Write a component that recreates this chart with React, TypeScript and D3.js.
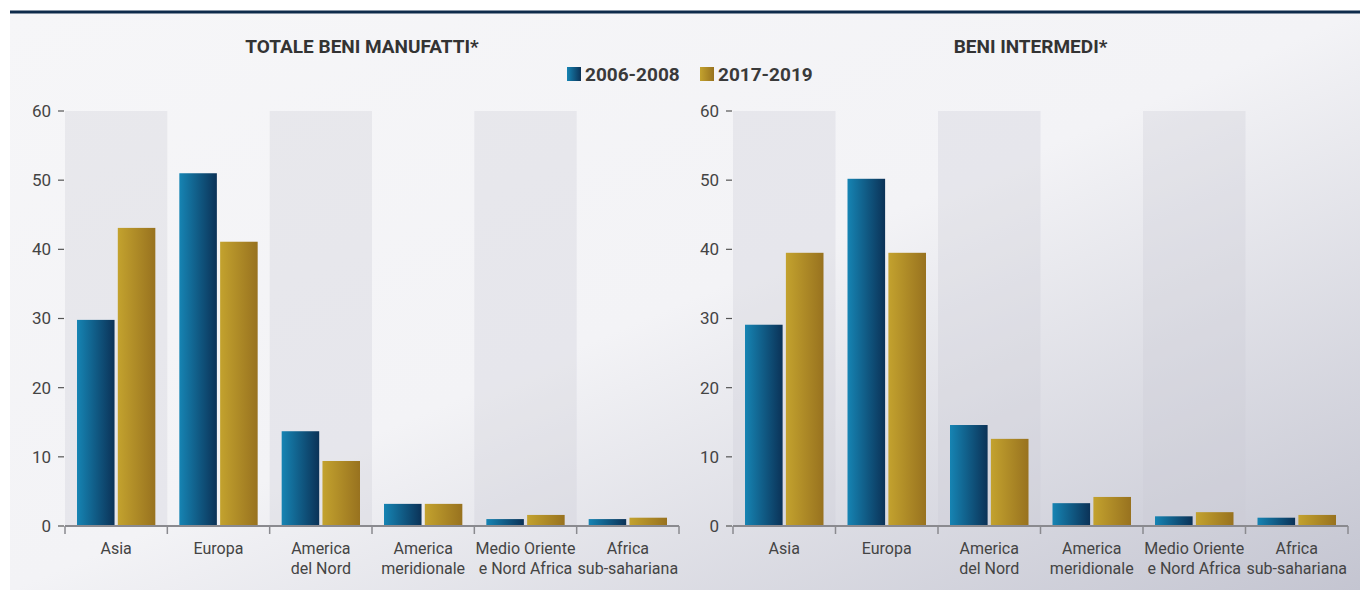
import React from 'react';
import * as d3 from 'd3';

const categories = ['Asia', 'Europa', 'America del Nord', 'America meridionale', 'Medio Oriente e Nord Africa', 'Africa sub-sahariana'];
const categoryLines = [['Asia'], ['Europa'], ['America', 'del Nord'], ['America', 'meridionale'], ['Medio Oriente', 'e Nord Africa'], ['Africa', 'sub-sahariana']];
const seriesNames = ['2006-2008', '2017-2019'];
const yTicks = [0, 10, 20, 30, 40, 50, 60];

const totale2006 = [29.8, 51.0, 13.7, 3.2, 1.0, 1.0];
const totale2017 = [43.1, 41.1, 9.4, 3.2, 1.6, 1.2];
const intermedi2006 = [29.1, 50.2, 14.6, 3.3, 1.4, 1.2];
const intermedi2017 = [39.5, 39.5, 12.6, 4.2, 2.0, 1.6];

const W = 1360;
const H = 590;
const FONT = 'Roboto, sans-serif';

const y = d3.scaleLinear().domain([0, 60]).range([526, 111]);

type PanelProps = { x0: number; x1: number; title: string; a: number[]; b: number[] };

const Panel = ({ x0, x1, title, a, b }: PanelProps) => {
  const x = d3.scaleBand().domain(categories).range([x0, x1]);
  const bw = x.bandwidth();
  const xs = d3.scaleBand().domain(seriesNames).range([12, bw - 12]).paddingInner(0.08);
  const vals = [a, b];
  return (
    <g>
      <text x={(x0 + x1) / 2 - 10} y={53} textAnchor="middle" fontFamily={FONT} fontWeight={700}
        fontSize={19} fill="#333">{title}</text>
      {categories.map((c, i) => i % 2 === 0 && (
        <rect key={'band' + c} x={x(c)} y={y(60)} width={bw} height={y(0) - y(60)} fill="#c9c9d3" opacity={0.3} />
      ))}
      {categories.map((c, i) => seriesNames.map((s, j) => (
        <rect key={c + s} x={(x(c) ?? 0) + (xs(s) ?? 0)} y={y(vals[j][i])} width={xs.bandwidth()}
          height={y(0) - y(vals[j][i])} fill={j === 0 ? 'url(#gBlue)' : 'url(#gGold)'} />
      )))}
      <line x1={x0} x2={x1} y1={y(0)} y2={y(0)} stroke="#8a8a8f" strokeWidth={2} />
      {d3.range(categories.length + 1).map(i => (
        <line key={'t' + i} x1={x0 + i * bw} x2={x0 + i * bw} y1={y(0)} y2={y(0) + 8} stroke="#8a8a8f" strokeWidth={1.5} />
      ))}
      {yTicks.map(t => (
        <g key={'y' + t}>
          <line x1={x0 - 7} x2={x0 - 1} y1={y(t)} y2={y(t)} stroke="#555" strokeWidth={1.2} />
          <text x={x0 - 14} y={y(t)} dy="0.35em" textAnchor="end" fontFamily={FONT} fontSize={17} fill="#444">{t}</text>
        </g>
      ))}
      {categories.map((c, i) => (
        <text key={'l' + c} textAnchor="middle" fontFamily={FONT} fontSize={16} fill="#444">
          {categoryLines[i].map((ln, k) => (
            <tspan key={k} x={(x(c) ?? 0) + bw / 2} y={554 + k * 20}>{ln}</tspan>
          ))}
        </text>
      ))}
    </g>
  );
};

export default function App() {
  return (
    <svg width={W} height={H} style={{ position: 'absolute', left: 0, top: 0 }}>
      <defs>
        <linearGradient id="bg" x1="0" y1="0" x2="1" y2="1">
          <stop offset="0" stopColor="#f6f6f8" />
          <stop offset="0.5" stopColor="#f3f3f6" />
          <stop offset="1" stopColor="#c4c5d1" />
        </linearGradient>
        <linearGradient id="gBlue" x1="0" y1="0" x2="1" y2="0">
          <stop offset="0" stopColor="#1684b3" />
          <stop offset="1" stopColor="#0b3257" />
        </linearGradient>
        <linearGradient id="gGold" x1="0" y1="0" x2="1" y2="0">
          <stop offset="0" stopColor="#c3a22e" />
          <stop offset="1" stopColor="#98721f" />
        </linearGradient>
      </defs>
      <rect x={0} y={0} width={W} height={H} fill="#fff" />
      <rect x={10} y={12} width={W - 10} height={H - 12} fill="url(#bg)" />
      <line x1={10} x2={W} y1={12} y2={12} stroke="#0e2b4b" strokeWidth={3} />
      <Panel x0={65} x1={679} title="TOTALE BENI MANUFATTI*" a={totale2006} b={totale2017} />
      <Panel x0={733} x1={1348} title="BENI INTERMEDI*" a={intermedi2006} b={intermedi2017} />
      {seriesNames.map((s, j) => (
        <g key={s} transform={`translate(${567 + j * 133},67)`}>
          <rect width={14} height={14} fill={j === 0 ? 'url(#gBlue)' : 'url(#gGold)'} />
          <text x={18} y={7} dy="0.36em" fontFamily={FONT} fontWeight={700} fontSize={19} fill="#3a3a3a">{s}</text>
        </g>
      ))}
    </svg>
  );
}
